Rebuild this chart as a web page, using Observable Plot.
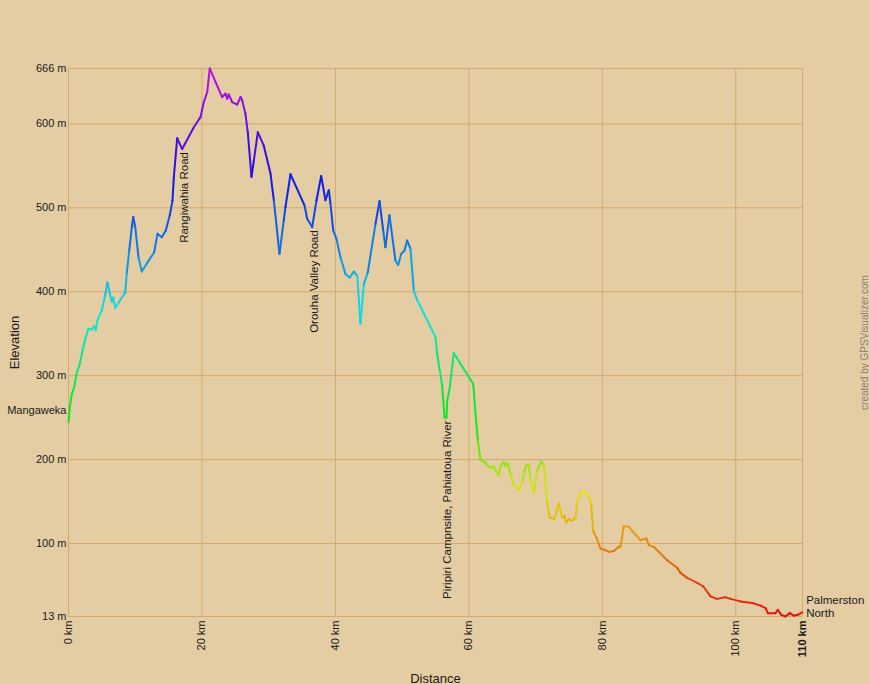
<!DOCTYPE html>
<html>
<head>
<meta charset="utf-8">
<script src="https://cdn.jsdelivr.net/npm/d3@7"></script>
<script src="https://cdn.jsdelivr.net/npm/@observablehq/plot@0.6"></script>
<style>
  html, body { margin: 0; padding: 0; background: #e4cda3; overflow: hidden; }
</style>
</head>
<body>
<div id="chart"></div>
<script>
// Distance along the track (km)
const distanceKm = [
  0, 0.19, 0.49, 0.85, 1.20, 1.69, 2.10, 2.59, 3.00, 3.49, 3.85, 4.09, 4.35, 4.99, 5.50, 5.84, 6.19, 6.49, 6.70, 7.00,
  7.60, 8.50, 8.74, 9.10, 9.49, 9.70, 10.00, 10.49, 10.98, 11.84, 12.84, 13.34, 13.98, 14.58, 15.18, 15.59, 15.78, 16.29, 17.04, 18.78,
  19.78, 20.28, 20.79, 21.17, 22.03, 23.03, 23.53, 23.78, 24.02, 24.53, 25.28, 25.78, 26.03, 26.52, 26.87, 27.42, 27.77, 28.37, 29.27, 30.27,
  30.77, 31.62, 32.26, 32.52, 33.27, 35.37, 35.77, 36.52, 37.17, 37.87, 38.51, 39.01, 39.26, 39.67, 40.16, 40.76, 41.51, 42.16, 42.76, 43.27,
  43.76, 44.26, 44.85, 46.01, 46.61, 47.16, 47.50, 48.10, 49.00, 49.41, 49.86, 50.35, 50.76, 51.25, 51.75, 52.26, 53.25, 55.00, 55.25, 56.00,
  56.35, 56.65, 56.75, 57.14, 57.74, 58.75, 60.35, 60.65, 60.99, 61.34, 61.74, 62.49, 63.24, 63.74, 63.99, 64.48, 64.74, 65.23, 65.49, 65.83,
  66.24, 66.73, 67.48, 67.99, 68.34, 68.64, 68.98, 69.24, 69.73, 70.24, 70.84, 71.23, 71.74, 72.13, 72.83, 73.48, 73.98, 74.33, 74.58, 74.97,
  75.48, 75.98, 76.23, 76.83, 77.37, 77.97, 78.33, 78.63, 79.12, 79.72, 80.47, 80.97, 81.72, 82.47, 82.72, 83.22, 83.97, 84.48, 85.72, 86.62,
  86.97, 87.72, 89.72, 91.22, 91.72, 92.72, 94.22, 95.12, 96.21, 97.21, 98.46, 99.21, 100.71, 102.46, 103.71, 104.46, 104.80, 105.95, 106.30, 106.81,
  107.45, 108.10, 108.69, 109.29, 109.95
];
// Elevation (m)
const elevationM = [
  245, 262, 278, 286, 302, 314, 330, 346, 356, 355, 359, 354, 366, 378, 396, 411, 398, 388, 393, 381,
  388, 399, 423, 449, 477, 489, 477, 441, 424, 435, 447, 469, 465, 473, 491, 509, 536, 583, 570, 596,
  608, 626, 638, 666, 650, 632, 636, 630, 635, 626, 623, 632, 628, 612, 590, 537, 556, 590, 574, 541,
  509, 445, 485, 501, 540, 503, 487, 477, 509, 538, 509, 521, 505, 473, 463, 441, 421, 417, 424, 419,
  362, 409, 423, 481, 508, 473, 453, 491, 437, 432, 445, 449, 461, 451, 401, 390, 374, 346, 326, 288,
  250, 250, 270, 286, 327, 314, 294, 290, 255, 223, 200, 196, 190, 192, 187, 181, 192, 197, 193, 196,
  183, 169, 164, 173, 187, 193, 194, 175, 160, 187, 198, 193, 149, 131, 129, 148, 131, 133, 125, 129,
  127, 131, 149, 161, 162, 155, 147, 115, 107, 94, 92, 90, 91, 96, 96, 121, 120, 115, 104, 106,
  98, 96, 80, 71, 65, 59, 53, 49, 37, 34, 36, 34, 31, 29, 26, 23, 17, 17, 21, 15,
  13, 17, 14, 15, 18
];

// Waypoints
const waypointNames = ["Mangaweka", "Rangiwahia Road", "Orouha Valley Road", "Piripiri Campnsite, Pahiatoua River", "Palmerston North"];
const waypointKm = [0, 17.04, 36.52, 56.5, 109.95];
const waypointElev = [245, 570, 477, 250, 18];

// Axis ticks
const xTicks = [0, 20, 40, 60, 80, 100];
const xLastTick = [110];
const yTicks = [13, 100, 200, 300, 400, 500, 600, 666];
const gridX = [0, 20, 40, 60, 80, 100, 110];

// Build segments from consecutive track points
const segments = [];
for (let i = 0; i < distanceKm.length - 1; i++) {
  segments.push({
    x1: distanceKm[i], y1: elevationM[i],
    x2: distanceKm[i + 1], y2: elevationM[i + 1],
    e: (elevationM[i] + elevationM[i + 1]) / 2
  });
}
const waypoints = waypointNames.map((name, i) => ({name, km: waypointKm[i], elev: waypointElev[i]}));

const hueScale = d3.scaleLinear().domain([0, 0.12, 0.22, 0.36, 0.55, 0.8, 1]).range([0, 30, 58, 120, 178, 240, 292]);
const interp = t => d3.hsl(hueScale(t), 0.88, 0.48).formatHex();

const gridColor = "#d7aa6c";
const font = "'Liberation Sans', Arial, Helvetica, sans-serif";

const chart = Plot.plot({
  width: 869,
  height: 684,
  marginLeft: 68,
  marginRight: 67,
  marginTop: 68,
  marginBottom: 68,
  style: {background: "#e4cda3", fontFamily: font, color: "#1a1a1a", overflow: "visible"},
  x: {domain: [0, 110]},
  y: {domain: [13, 666]},
  color: {type: "linear", domain: [13, 666], interpolate: interp},
  marks: [
    Plot.ruleX(gridX, {stroke: gridColor, strokeWidth: 1}),
    Plot.ruleY(yTicks, {stroke: gridColor, strokeWidth: 1}),
    Plot.axisY({ticks: yTicks, tickFormat: d => d + " m", tickSize: 0, tickPadding: 2, fontSize: 11, label: null}),
    Plot.axisX({ticks: xTicks, tickFormat: d => d + " km", tickSize: 0, tickPadding: 4, tickRotate: -90, fontSize: 11, label: null}),
    Plot.axisX({ticks: xLastTick, tickFormat: d => d + " km", tickSize: 0, tickPadding: 4, tickRotate: -90, fontSize: 11, fontWeight: "bold", label: null}),
    Plot.link(segments, {x1: "x1", y1: "y1", x2: "x2", y2: "y2", stroke: "e", strokeWidth: 2, strokeLinecap: "round", strokeLinejoin: "round"}),
    // waypoint labels
    Plot.text(waypoints.slice(0, 1), {x: "km", y: "elev", text: "name", textAnchor: "end", dx: -2, dy: -11, fontSize: 11, fill: "#1a1a1a"}),
    Plot.text(waypoints.slice(1, 4), {x: "km", y: "elev", text: "name", rotate: -90, textAnchor: "end", dx: 2, dy: 3, fontSize: 11.5, fill: "#1a1a1a"}),
    Plot.text(waypoints.slice(4), {x: "km", y: "elev", text: d => "Palmerston\nNorth", textAnchor: "start", lineAnchor: "middle", dx: 4, dy: -6, fontSize: 11.5, lineHeight: 1.15, fill: "#1a1a1a"}),
    // axis titles
    Plot.text(["Elevation"], {frameAnchor: "left", textAnchor: "middle", dx: -54, rotate: -90, fontSize: 13, fill: "#1a1a1a"}),
    Plot.text(["Distance"], {frameAnchor: "bottom", textAnchor: "middle", dy: 66, fontSize: 13, fill: "#1a1a1a"}),
    Plot.text(["created by GPSVisualizer.com"], {frameAnchor: "right", textAnchor: "middle", dx: 62, rotate: -90, fontSize: 10, fill: "#8a8378"})
  ]
});
document.getElementById("chart").appendChild(chart);
</script>
</body>
</html>
